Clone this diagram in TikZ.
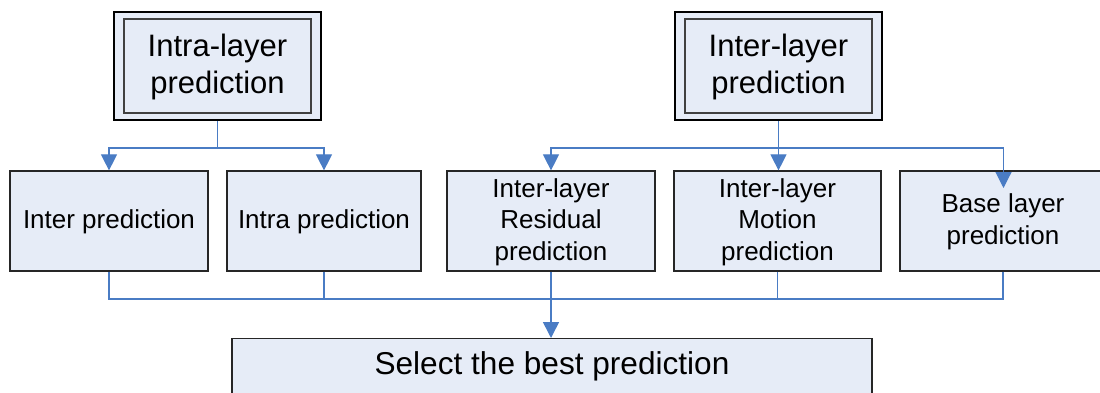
\documentclass[tikz,border=0pt]{standalone}
\usepackage{fontspec}
\setmainfont{Liberation Sans}
\usetikzlibrary{arrows.meta}
\definecolor{boxfill}{HTML}{E6ECF7}
\definecolor{linkblue}{HTML}{4A7CC4}
\tikzset{
  x=1pt, y=-1pt,
  stepbox/.style={draw=black!85, line width=1.2pt, fill=boxfill, inner sep=0pt,
    align=center, font=\fontsize{26}{31.5}\selectfont},
  outerbox/.style={draw=black, line width=2pt, fill=boxfill, inner sep=0pt,
    minimum width=207pt, minimum height=108pt},
  innerbox/.style={draw=black!75, line width=1.1pt, fill=boxfill, inner sep=0pt,
    minimum width=187pt, minimum height=94pt},
  label/.style={align=center, inner sep=0pt},
  link/.style={draw=linkblue, line width=1.1pt},
  arrowlink/.style={link, -{Triangle[width=16pt,length=16pt]}},
}
\begin{document}
\begin{tikzpicture}
\useasboundingbox (0,0) rectangle (1100,392);
\clip (0,0) rectangle (1100,392);

% top-level groups (double frame)
\node[outerbox] (intraOuter) at (217.5,66) {};
\node[innerbox] (intraTop) at (217.5,66) {};
\node[label, font=\fontsize{31}{37}\selectfont] (intraText) at (217.5,67) {Intra-layer\\prediction};
\node[outerbox] (interOuter) at (778.5,66) {};
\node[innerbox] (interTop) at (778.5,66) {};
\node[label, font=\fontsize{31}{37}\selectfont] (interText) at (778.5,67) {Inter-layer\\prediction};

% prediction modes
\node[stepbox, minimum width=198pt, minimum height=100pt] (interP) at (109,221) {};
\node[label, font=\fontsize{26}{31.5}\selectfont] (interPText) at (109,222) {Inter prediction};
\node[stepbox, minimum width=194pt, minimum height=100pt] (intraP) at (324,221) {};
\node[label, font=\fontsize{26}{31.5}\selectfont] (intraPText) at (324,222) {Intra prediction};
\node[stepbox, minimum width=208pt, minimum height=100pt] (resP) at (551,221) {};
\node[label, font=\fontsize{26}{31.5}\selectfont] (resPText) at (551,222) {Inter-layer\\Residual\\prediction};
\node[stepbox, minimum width=207pt, minimum height=100pt] (motP) at (777.5,221) {};
\node[label, font=\fontsize{26}{31.5}\selectfont] (motPText) at (777.5,222) {Inter-layer\\Motion\\prediction};
\node[stepbox, minimum width=206pt, minimum height=100pt] (baseP) at (1003,221) {};
\node[label, font=\fontsize{26}{31.5}\selectfont] (basePText) at (1003,222) {Base layer\\prediction};

% final decision
\node[stepbox, minimum width=640pt, minimum height=80pt, anchor=north] (select) at (552,338) {};
\node[label, font=\fontsize{31.6}{37}\selectfont] (selectText) at (552,366) {Select the best prediction};

% fan-out from the groups
\coordinate (splitL) at (217.5,148);
\coordinate (splitR) at (778.5,148);
\coordinate (baseTip) at (1003.5,188);
\draw[link] (intraOuter.south) -- (splitL);
\draw[arrowlink] (splitL) -| (interP.north);
\draw[arrowlink] (splitL) -| (intraP.north);
\draw[arrowlink] (interOuter.south) -- (splitR) -- (splitR |- motP.north);
\draw[arrowlink] (splitR) -| (resP.north);
\draw[arrowlink] (splitR) -| (baseTip);

% gathering into the selection
\coordinate (gather) at (551,299);
\draw[link] (interP.south) |- (gather);
\draw[link] (intraP.south) |- (gather);
\draw[link] (motP.south) |- (gather);
\draw[link] (baseP.south) |- (gather);
\draw[link] (resP.south) -- (gather);
\draw[arrowlink, line width=1.6pt] (gather) -- (gather |- select.north);
\end{tikzpicture}
\end{document}
